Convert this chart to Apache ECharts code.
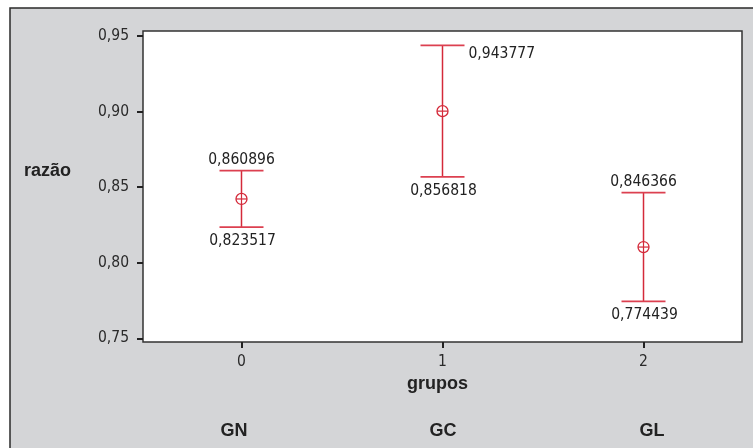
<!DOCTYPE html>
<html>
<head>
<meta charset="utf-8">
<script src="https://cdn.jsdelivr.net/npm/echarts@6/dist/echarts.min.js"></script>
<style>
html,body{margin:0;padding:0;background:#fff;}
#chart{width:753px;height:448px;}
</style>
</head>
<body>
<div id="chart"></div>
<script>
// ---- data ----
var groupPositions = [0, 1, 2];
var groupNames = ['GN', 'GC', 'GL'];
var lowerValues = [0.823517, 0.856818, 0.774439];
var upperValues = [0.860896, 0.943777, 0.846366];
var meanValues = [0.8422, 0.9003, 0.8104];
var yTickValues = [0.75, 0.80, 0.85, 0.90, 0.95];
var xTickValues = [0, 1, 2];
var upperLabelSide = ['top', 'right', 'top'];

var RED = '#d42a3a';
var NUM_FONT = '"DejaVu Sans Condensed", "Liberation Sans", sans-serif';
var BOLD_FONT = '"Liberation Sans", Arial, sans-serif';
var NUM_SIZE = 15.5;

function fmt(v, d) { return v.toFixed(d).replace('.', ','); }

var chart = echarts.init(document.getElementById('chart'), null, {renderer: 'canvas'});

var seriesData = groupPositions.map(function (g, i) {
  return [g, lowerValues[i], upperValues[i], meanValues[i]];
});

var option = {
  animation: false,
  backgroundColor: '#ffffff',
  graphic: {
    elements: [
      {type: 'rect', z: -100, shape: {x: 10, y: 8, width: 800, height: 500},
       style: {fill: '#d4d5d7', stroke: '#2a2a2a', lineWidth: 1.5}},
      {type: 'text', left: 24, top: 162, z: 10,
       style: {text: 'razão', font: 'bold 18px ' + BOLD_FONT, fill: '#222'}}
    ].concat(groupNames.map(function (n, i) {
      var xs = [234, 443, 652];
      return {type: 'text', x: xs[i], y: 431, z: 10,
        style: {text: n, font: 'bold 18px ' + BOLD_FONT, fill: '#222', align: 'center', verticalAlign: 'middle'}};
    }))
  },
  grid: {
    left: 143, right: 11, top: 31, bottom: 106,
    show: true, backgroundColor: '#ffffff', borderColor: '#333', borderWidth: 1.5
  },
  xAxis: {
    type: 'value', min: -0.49, max: 2.49,
    name: 'grupos', nameLocation: 'middle', nameGap: 33,
    nameTextStyle: {fontFamily: BOLD_FONT, fontWeight: 'bold', fontSize: 18, color: '#222', padding: [0, 10, 0, 0]},
    axisLine: {show: false, onZero: false},
    splitLine: {show: false},
    axisTick: {show: true, length: 6, customValues: xTickValues, lineStyle: {color: '#222', width: 2}},
    axisLabel: {customValues: xTickValues, margin: 12, fontFamily: NUM_FONT, fontSize: NUM_SIZE, color: '#2a2a2a',
      formatter: function (v) { return String(Math.round(v)); }}
  },
  yAxis: {
    type: 'value', min: 0.7476, max: 0.9533,
    axisLine: {show: false, onZero: false},
    splitLine: {show: false},
    axisTick: {show: true, length: 6, customValues: yTickValues, lineStyle: {color: '#222', width: 2}},
    axisLabel: {customValues: yTickValues, margin: 14, fontFamily: NUM_FONT, fontSize: NUM_SIZE, color: '#2a2a2a',
      formatter: function (v) { return fmt(v, 2); }}
  },
  series: [{
    type: 'custom',
    data: seriesData,
    encode: {x: 0, y: [1, 2, 3]},
    renderItem: function (params, api) {
      var i = params.dataIndex;
      var x = api.value(0);
      var pLo = api.coord([x, api.value(1)]);
      var pHi = api.coord([x, api.value(2)]);
      var pM = api.coord([x, api.value(3)]);
      var cw = 22, r = 5.5;
      var lineStyle = {stroke: RED, lineWidth: 1.5};
      var capStyle = {stroke: '#dc4050', lineWidth: 1.8};
      var children = [
        {type: 'line', shape: {x1: pHi[0], y1: pHi[1], x2: pLo[0], y2: pLo[1]}, style: lineStyle},
        {type: 'line', shape: {x1: pHi[0] - cw, y1: pHi[1], x2: pHi[0] + cw, y2: pHi[1]}, style: capStyle},
        {type: 'line', shape: {x1: pLo[0] - cw, y1: pLo[1], x2: pLo[0] + cw, y2: pLo[1]}, style: capStyle},
        {type: 'circle', shape: {cx: pM[0], cy: pM[1], r: r}, style: {fill: '#fff', stroke: RED, lineWidth: 1.3}},
        {type: 'line', shape: {x1: pM[0] - r, y1: pM[1], x2: pM[0] + r, y2: pM[1]}, style: {stroke: RED, lineWidth: 1.2}},
        {type: 'line', shape: {x1: pM[0], y1: pM[1] - r, x2: pM[0], y2: pM[1] + r}, style: {stroke: RED, lineWidth: 1.2}}
      ];
      var font = NUM_SIZE + 'px ' + NUM_FONT;
      if (upperLabelSide[i] === 'right') {
        children.push({type: 'text', style: {text: fmt(api.value(2), 6), x: pHi[0] + cw + 4, y: pHi[1] + 9,
          align: 'left', verticalAlign: 'middle', font: font, fill: '#222'}});
      } else {
        children.push({type: 'text', style: {text: fmt(api.value(2), 6), x: pHi[0], y: pHi[1] - 11,
          align: 'center', verticalAlign: 'middle', font: font, fill: '#222'}});
      }
      children.push({type: 'text', style: {text: fmt(api.value(1), 6), x: pLo[0] + 1, y: pLo[1] + 14,
        align: 'center', verticalAlign: 'middle', font: font, fill: '#222'}});
      return {type: 'group', children: children};
    }
  }]
};
chart.setOption(option);
</script>
</body>
</html>
